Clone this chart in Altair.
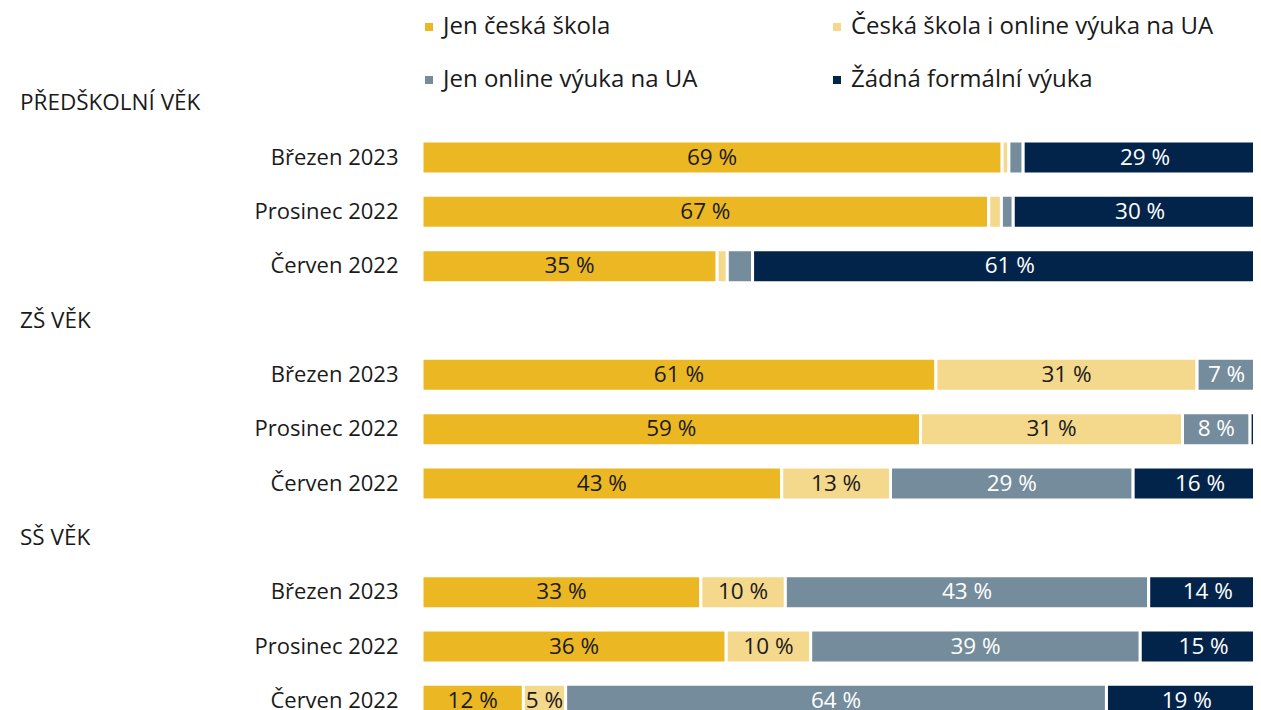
import altair as alt
import pandas as pd

groups = ["PŘEDŠKOLNÍ VĚK", "ZŠ VĚK", "SŠ VĚK"]
periods = ["Březen 2023", "Prosinec 2022", "Červen 2022"]
categories = ["Jen česká škola", "Česká škola i online výuka na UA",
              "Jen online výuka na UA", "Žádná formální výuka"]
colors = ["#EBB824", "#F4D88C", "#748C9B", "#03244A"]

# rows: group x period (Březen 2023, Prosinec 2022, Červen 2022)
jen_ceska      = [69, 67, 35,   61, 59, 43,   33, 36, 12]
ceska_i_online = [0.8, 1.5, 1.2, 31, 31, 13,  10, 10, 5]
jen_online     = [1.7, 1.4, 3,   7, 8, 29,    43, 39, 64]
zadna          = [29, 30, 61,   1.3, 2, 16,   14, 15, 19]

FONT = "Open Sans"
series = [jen_ceska, ceska_i_online, jen_online, zadna]

slots = []
rows = []
headers = []
i = 0
for g in groups:
    slots.append(g + "|")
    headers.append({"slot": g + "|", "label": g})
    for p in periods:
        key = g + "|" + p
        slots.append(key)
        for ci, c in enumerate(categories):
            rows.append({"slot": key, "cat": c, "order": ci, "value": series[ci][i]})
        i += 1

df = pd.DataFrame(rows)
hdf = pd.DataFrame(headers)

PLOT_W = 831
yscale = alt.Scale(domain=slots, range=[0, 652], paddingInner=0, paddingOuter=0)
xscale = alt.Scale(domain=[0, PLOT_W / 845], nice=False, zero=True)

base = alt.Chart(df).transform_stack(
    stack="value", groupby=["slot"], as_=["x0", "x1"], offset="normalize",
    sort=[alt.SortField("order", order="ascending")]
)

bars = base.mark_bar(size=33, stroke="white", strokeWidth=3, clip=True).encode(
    y=alt.Y("slot:N", scale=yscale, sort=slots,
            axis=alt.Axis(title=None, domain=False, ticks=False, labelPadding=24,
                          labelFontSize=22, labelFont=FONT, labelColor="#1a1a1a",
                          labelExpr="split(datum.label, '|')[1]")),
    x=alt.X("x0:Q", scale=xscale, axis=None),
    x2="x1:Q",
    color=alt.Color("cat:N", scale=alt.Scale(domain=categories, range=colors),
                    legend=alt.Legend(title=None, orient="none", legendX=-5, legendY=-61,
                                      direction="horizontal",
                                      columns=2, symbolType="square", symbolSize=64,
                                      symbolStrokeWidth=0, labelFontSize=24, labelFont=FONT,
                                      labelColor="#1a1a1a", labelOffset=2,
                                      columnPadding=127, rowPadding=29, labelLimit=600)),
)

labels = base.transform_filter("datum.value >= 4").transform_calculate(
    mid="(datum.x0 + datum.x1) / 2",
    txt="format(round(datum.value), 'd') + ' %'"
).mark_text(fontSize=22.5, font=FONT, baseline="middle", align="center").encode(
    y=alt.Y("slot:N", scale=yscale, sort=slots),
    x=alt.X("mid:Q", scale=xscale),
    text="txt:N",
    color=alt.condition("datum.order >= 2", alt.value("white"), alt.value("#1a1a1a")),
)

heads = alt.Chart(hdf).mark_text(fontSize=22.5, font=FONT, align="left", baseline="middle",
                                 color="#1a1a1a").encode(
    y=alt.Y("slot:N", scale=yscale, sort=slots),
    x=alt.value(-402),
    text="label:N",
)

chart = alt.layer(bars, labels, heads).properties(
    width=PLOT_W, height=635,
    autosize=alt.AutoSizeParams(type="none"),
    padding={"left": 414, "top": 68, "right": 0, "bottom": 0},
).configure_view(stroke=None)

chart.save("out.html", embed_options={"renderer": "svg", "actions": False})
